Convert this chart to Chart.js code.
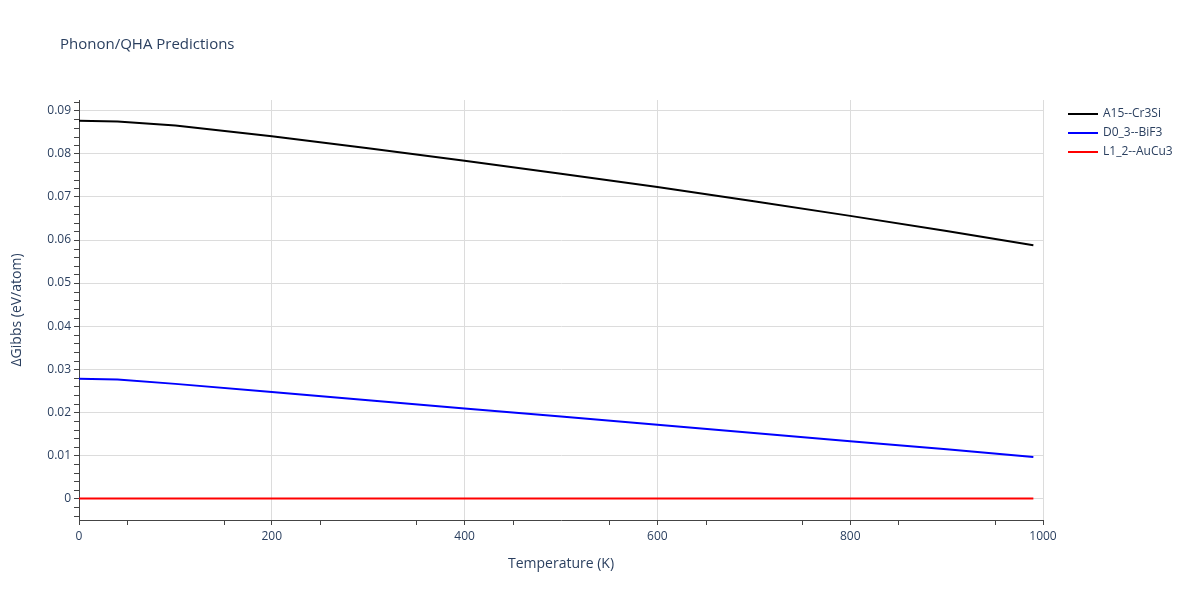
<!DOCTYPE html>
<html>
<head>
<meta charset="utf-8">
<title>Phonon/QHA Predictions</title>
<script src="https://cdn.jsdelivr.net/npm/chart.js@4"></script>
<style>
    html, body { margin: 0; padding: 0; background: #fff; }
    #wrap { width: 1200px; height: 600px; }
</style>
</head>
<body>
<div id="wrap"><canvas id="chart" width="1200" height="600"></canvas></div>
<script>
// Chart data
const temperatures = [0, 40, 100, 200, 300, 400, 500, 600, 700, 800, 900, 990];
const a15Cr3Si = [0.0877, 0.0875, 0.0866, 0.0841, 0.0813, 0.0784, 0.0754, 0.0723, 0.0690, 0.0656, 0.0621, 0.0588];
const d03BiF3 = [0.0278, 0.0276, 0.0266, 0.0247, 0.0228, 0.0209, 0.0190, 0.0171, 0.0152, 0.0133, 0.0114, 0.0096];
const l12AuCu3 = [0, 0, 0, 0, 0, 0, 0, 0, 0, 0, 0, 0];
const seriesNames = ['A15--Cr3Si', 'D0_3--BiF3', 'L1_2--AuCu3'];
const seriesColors = ['#000000', '#0000ff', '#ff0000'];
const xTicks = [0, 200, 400, 600, 800, 1000];
const yTicks = [0, 0.01, 0.02, 0.03, 0.04, 0.05, 0.06, 0.07, 0.08, 0.09];

const FONT = '"Open Sans", "DejaVu Sans", Arial, sans-serif';
const TEXT = '#2a3f5f';
const AXIS = '#444444';

function toPoints(values) {
    return temperatures.map((t, i) => ({ x: t, y: values[i] }));
}

// Title, legend and minor ticks
const extras = {
    id: 'extras',
    afterDraw: function(chart) {
        const ctx = chart.ctx;
        const x = chart.scales.x;
        const y = chart.scales.y;
        ctx.save();

        ctx.font = '15px ' + FONT;
        ctx.fillStyle = TEXT;
        ctx.textAlign = 'left';
        ctx.textBaseline = 'middle';
        ctx.fillText('Phonon/QHA Predictions', 60, 45);

        // minor ticks
        ctx.strokeStyle = AXIS;
        ctx.lineWidth = 1;
        ctx.beginPath();
        for (let i = -2; i <= 46; i++) {
            if (i % 5 === 0) continue;
            const py = Math.round(y.getPixelForValue(i * 0.002)) + 0.5;
            if (py < chart.chartArea.top || py > chart.chartArea.bottom) continue;
            ctx.moveTo(x.left - 5, py);
            ctx.lineTo(x.left, py);
        }
        for (let t = 50; t < 1000; t += 100) {
            const px = Math.round(x.getPixelForValue(t)) + 0.5;
            ctx.moveTo(px, y.bottom);
            ctx.lineTo(px, y.bottom + 5);
        }
        ctx.stroke();

        // legend
        ctx.font = '12px ' + FONT;
        seriesNames.forEach((name, i) => {
            const ly = 114 + i * 19;
            ctx.strokeStyle = seriesColors[i];
            ctx.lineWidth = 2;
            ctx.beginPath();
            ctx.moveTo(1068, ly);
            ctx.lineTo(1098, ly);
            ctx.stroke();
            ctx.fillStyle = TEXT;
            ctx.fillText(name, 1103, ly);
        });
        ctx.restore();
    }
};

const ctx = document.getElementById('chart').getContext('2d');
new Chart(ctx, {
    type: 'line',
    data: {
        datasets: [a15Cr3Si, d03BiF3, l12AuCu3].map((vals, i) => ({
            label: seriesNames[i],
            data: toPoints(vals),
            borderColor: seriesColors[i],
            backgroundColor: seriesColors[i],
            borderWidth: 2,
            pointRadius: 0,
            tension: 0,
            fill: false
        }))
    },
    options: {
        responsive: false,
        animation: false,
        layout: { padding: { left: 0, right: 157, top: 100, bottom: 0 } },
        plugins: {
            legend: { display: false },
            title: { display: false },
            tooltip: { enabled: false }
        },
        scales: {
            x: {
                type: 'linear',
                min: 0,
                max: 1000,
                afterBuildTicks: function(scale) {
                    scale.ticks = xTicks.map(v => ({ value: v }));
                },
                afterFit: function(scale) { scale.height = 80; },
                grid: { color: '#dcdcdc', tickColor: AXIS, tickLength: 5 },
                border: { color: AXIS, width: 1 },
                ticks: {
                    color: TEXT,
                    font: { family: FONT, size: 12 },
                    padding: 4,
                    maxRotation: 0,
                    callback: function(v) { return String(v); }
                },
                title: {
                    display: true,
                    text: 'Temperature (K)',
                    color: TEXT,
                    font: { family: FONT, size: 14 },
                    padding: { top: 0, bottom: 28 }
                }
            },
            y: {
                type: 'linear',
                min: -0.005,
                max: 0.0925,
                afterBuildTicks: function(scale) {
                    scale.ticks = yTicks.map(v => ({ value: v }));
                },
                afterFit: function(scale) { scale.width = 79; },
                grid: { color: '#dcdcdc', tickColor: AXIS, tickLength: 5 },
                border: { color: AXIS, width: 1 },
                ticks: {
                    color: TEXT,
                    font: { family: FONT, size: 12 },
                    padding: 3,
                    callback: function(v) { return v === 0 ? '0' : v.toFixed(2); }
                },
                title: {
                    display: true,
                    text: 'ΔGibbs (eV/atom)',
                    color: TEXT,
                    font: { family: FONT, size: 14 },
                    padding: { top: 9, bottom: 0 }
                }
            }
        }
    },
    plugins: [extras]
});
</script>
</body>
</html>
